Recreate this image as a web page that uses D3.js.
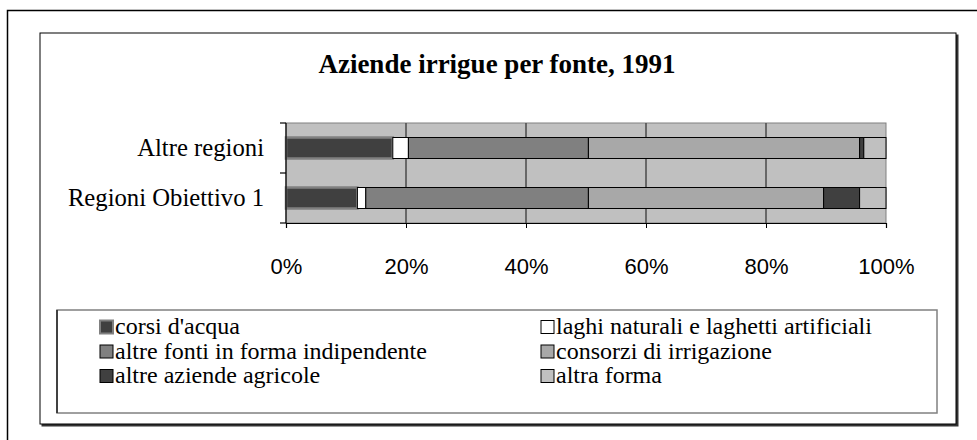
<!DOCTYPE html>
<html><head><meta charset="utf-8">
<script src="https://cdn.jsdelivr.net/npm/d3@7"></script>
<style>
html,body{margin:0;padding:0;background:#fff;}
svg{display:block;}
.serif{font-family:"Liberation Serif","Times New Roman",Tinos,Times,serif;}
.sans{font-family:"Liberation Sans",Arial,Arimo,Helvetica,sans-serif;}
</style></head>
<body>
<svg id="chart" width="977" height="440"></svg>
<script>
const title = "Aziende irrigue per fonte, 1991";
const categories = ["Altre regioni", "Regioni Obiettivo 1"];
const seriesNames = ["corsi d'acqua", "laghi naturali e laghetti artificiali", "altre fonti in forma indipendente", "consorzi di irrigazione", "altre aziende agricole", "altra forma"];
const corsi = [17.8, 11.9];
const laghi = [2.6, 1.4];
const altreFonti = [30.0, 37.1];
const consorzi = [45.2, 39.2];
const altreAziende = [0.7, 6.0];
const altraForma = [3.7, 4.4];
const tickValues = [0, 0.2, 0.4, 0.6, 0.8, 1.0];

const seriesValues = [corsi, laghi, altreFonti, consorzi, altreAziende, altraForma];
const fills = ["#404040", "#ffffff", "#808080", "#a8a8a8", "#404040", "#c0c0c0"];
const strokes = ["#808080", "#000", "#000", "#000", "#000", "#000"];
const strokeW = [2.5, 1, 1, 1, 1, 1];

const rows = categories.map((c, i) => {
  const r = {cat: c};
  seriesNames.forEach((s, j) => r[s] = seriesValues[j][i]);
  return r;
});
const stack = d3.stack().keys(seriesNames).offset(d3.stackOffsetExpand);
const stacked = stack(rows);

const svg = d3.select("#chart");
// page frame
svg.append("rect").attr("x", 7.5).attr("y", 10.5).attr("width", 1000).attr("height", 500)
  .attr("fill", "none").attr("stroke", "#000").attr("stroke-width", 1.5);
// chart frame shadow + frame
svg.append("rect").attr("x", 41.5).attr("y", 34.5).attr("width", 917).attr("height", 392)
  .attr("fill", "#333");
svg.append("rect").attr("x", 40).attr("y", 33).attr("width", 916).attr("height", 391)
  .attr("fill", "#fff").attr("stroke", "#000").attr("stroke-width", 1);

svg.append("text").attr("class", "serif").attr("x", 497).attr("y", 73).attr("text-anchor", "middle")
  .attr("font-weight", "bold").attr("font-size", 27)
  .text(title);

const x = d3.scaleLinear().domain([0, 1]).range([286, 886]);
const band = d3.scaleBand().domain(categories).range([123, 223]);

// plot background
svg.append("rect").attr("x", x(0)).attr("y", 123).attr("width", x(1) - x(0)).attr("height", 100)
  .attr("fill", "#c0c0c0").attr("stroke", "#808080").attr("stroke-width", 1);

// gridlines
svg.append("g").selectAll("line").data(tickValues.slice(1, -1)).join("line")
  .attr("x1", d => x(d)).attr("x2", d => x(d)).attr("y1", 123).attr("y2", 223)
  .attr("stroke", "#4a4a4a").attr("stroke-width", 1.5);

// bars
const barH = 21;
stacked.forEach((s, j) => {
  svg.append("g").selectAll("rect").data(s).join("rect")
    .attr("x", d => x(d[0]))
    .attr("y", d => band(d.data.cat) + band.bandwidth() / 2 - barH / 2)
    .attr("width", d => x(d[1]) - x(d[0]))
    .attr("height", barH)
    .attr("fill", fills[j]).attr("stroke", strokes[j]).attr("stroke-width", strokeW[j]);
});

// y axis
const gy = svg.append("g").attr("transform", `translate(${x(0)},0)`);
gy.append("line").attr("x1", 0).attr("x2", 0).attr("y1", 123).attr("y2", 223)
  .attr("stroke", "#000").attr("stroke-width", 1.2);
gy.selectAll("line.yt").data([123, 173, 223]).join("line").attr("class", "yt")
  .attr("x1", -6).attr("x2", 0).attr("y1", d => d).attr("y2", d => d)
  .attr("stroke", "#000").attr("stroke-width", 1.2);

// category labels
svg.append("g").selectAll("text").data(categories).join("text")
  .attr("class", "serif")
  .attr("x", 264).attr("y", d => band(d) + band.bandwidth() / 2 + 8)
  .attr("text-anchor", "end")
  .attr("font-size", 24.7)
  .attr("fill", "#000")
  .text(d => d);

// x axis
const xAxis = d3.axisBottom(x).tickValues(tickValues).tickSize(5).tickPadding(30).tickFormat(d3.format(".0%"));
const gx = svg.append("g").attr("transform", "translate(0,223)").call(xAxis);
gx.attr("font-family", null);
gx.select(".domain").attr("stroke", "#000").attr("stroke-width", 1.2);
gx.selectAll(".tick line").attr("stroke", "#000");
gx.selectAll(".tick text").attr("class", "sans")
  .attr("font-size", 22).attr("fill", "#000");

// legend
const lg = svg.append("g");
lg.append("rect").attr("x", 57).attr("y", 310).attr("width", 880).attr("height", 103)
  .attr("fill", "#fff").attr("stroke", "#808080").attr("stroke-width", 1.5);
lg.append("line").attr("x1", 57).attr("x2", 57).attr("y1", 310).attr("y2", 413)
  .attr("stroke", "#222").attr("stroke-width", 1.5);
seriesNames.forEach((s, j) => {
  const col = j % 2, row = Math.floor(j / 2);
  const lx = col === 0 ? 100 : 541;
  const cy = 327 + row * 24.5;
  lg.append("rect").attr("x", lx).attr("y", cy - 6.5).attr("width", 13).attr("height", 13)
    .attr("fill", fills[j]).attr("stroke", j === 0 ? "#808080" : "#000").attr("stroke-width", j === 0 ? 2 : 1);
  lg.append("text").attr("class", "serif").attr("x", lx + 15).attr("y", cy + 7)
    .attr("font-size", 24).attr("fill", "#000")
    .text(s);
});
</script>
</body></html>
